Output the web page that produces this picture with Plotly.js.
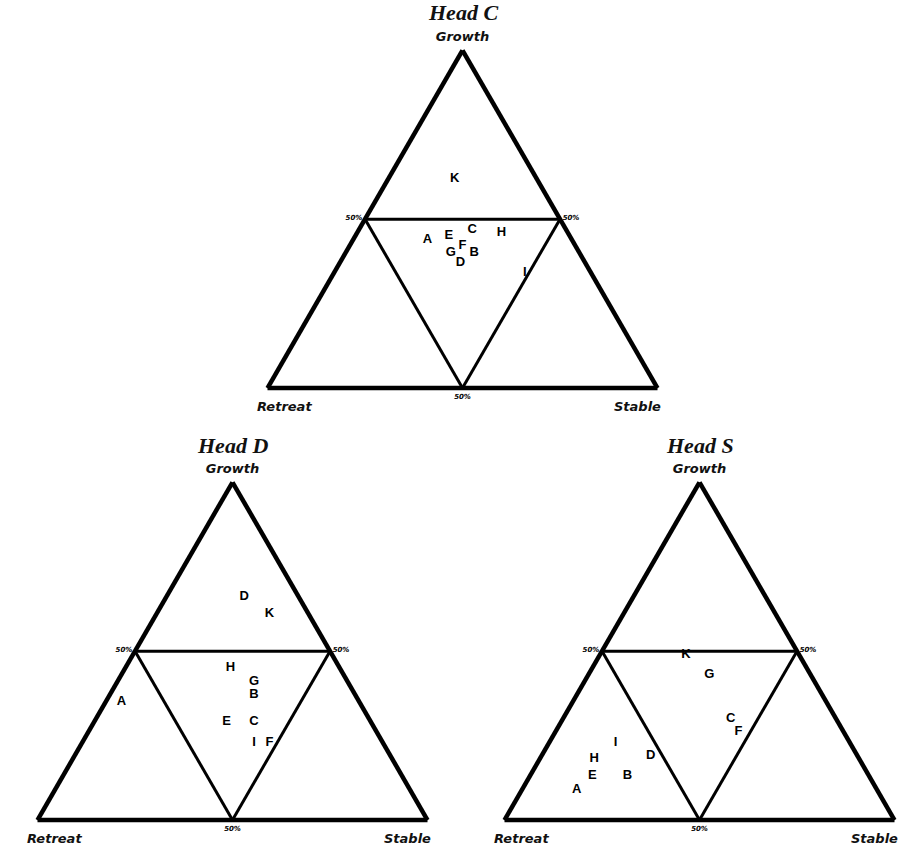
<!DOCTYPE html>
<html>
<head>
<meta charset="utf-8">
<script src="https://cdn.plot.ly/plotly-3.0.1.min.js"></script>
<style>
  html, body { margin: 0; padding: 0; background: #fff; }
  #chart { width: 914px; height: 846px; }
</style>
</head>
<body>
<div id="chart"></div>
<script>
// glacier heads: share of Growth / Retreat / Stable (percent) per site letter
const headCLabels  = ['A', 'B', 'C', 'D', 'E', 'F', 'G', 'H', 'I', 'K'];
const headCGrowth  = [44, 40, 47, 37, 45, 42, 40, 46, 34, 62];
const headCRetreat = [37, 27, 24, 32, 31, 29, 33, 17, 17, 21];
const headCStable  = [19, 33, 29, 31, 24, 29, 27, 37, 49, 17];

const headDLabels  = ['A', 'B', 'C', 'D', 'E', 'F', 'G', 'H', 'I', 'K'];
const headDGrowth  = [35, 37, 29, 66, 29, 23, 41, 45, 23, 61];
const headDRetreat = [61, 26, 30, 14, 37, 29, 24, 28, 33, 10];
const headDStable  = [4, 37, 41, 20, 34, 48, 35, 27, 44, 29];

const headSLabels  = ['A', 'B', 'C', 'D', 'E', 'F', 'G', 'H', 'I', 'K'];
const headSGrowth  = [9, 13, 30, 19, 13, 26, 43, 18, 23, 49];
const headSRetreat = [77, 62, 27, 53, 71, 27, 26, 68, 60, 29];
const headSStable  = [14, 25, 43, 28, 16, 47, 31, 14, 17, 22];

const headTitles = ['Head C', 'Head D', 'Head S'];
const cornerNames = ['Growth', 'Retreat', 'Stable'];
const midTicks = [50];
const midTickText = ['50%'];

const W = 914, H = 846;
const SIDE = 390;
const TRI_H = SIDE * Math.sqrt(3) / 2;

const cornerFont = { family: 'DejaVu Sans', size: 13, style: 'italic', weight: 'bold', color: '#111' };
const headFont = { family: 'Liberation Serif', size: 22, style: 'italic', weight: 'bold', color: '#111' };

function cornerAxis(name) {
  return {
    title: { text: name, font: cornerFont },
    min: 0,
    linewidth: 4.5,
    linecolor: '#000',
    showgrid: true,
    gridcolor: '#000',
    gridwidth: 3,
    tickmode: 'array',
    tickvals: midTicks,
    ticktext: midTickText,
    ticks: '',
    tickfont: { family: 'DejaVu Sans', size: 7, style: 'italic', weight: 'bold', color: '#000' }
  };
}

// cx = centre of the base in px, base = y of the base in px
function ternaryLayout(cx, base) {
  const x0 = cx - SIDE / 2, x1 = cx + SIDE / 2, y0 = base - TRI_H;
  return {
    domain: { x: [x0 / W, x1 / W], y: [1 - base / H, 1 - y0 / H] },
    sum: 100,
    bgcolor: '#fff',
    aaxis: cornerAxis(cornerNames[0]),
    baxis: cornerAxis(''),
    caxis: cornerAxis('')
  };
}

// Retreat / Stable names sit just inside the bottom corners, as in the original
function cornerNotes(cx, base) {
  const x0 = cx - SIDE / 2, x1 = cx + SIDE / 2;
  return [
    { text: cornerNames[1], x: (x0 - 13) / W, y: 1 - (base + 18) / H, xanchor: 'left' },
    { text: cornerNames[2], x: (x1 + 5) / W, y: 1 - (base + 18) / H, xanchor: 'right' }
  ].map(a => Object.assign(a, {
    xref: 'paper', yref: 'paper', yanchor: 'middle', showarrow: false, font: cornerFont
  }));
}

function letterTrace(labels, growth, retreat, stable, subplot) {
  return {
    type: 'scatterternary',
    mode: 'text',
    a: growth,
    b: retreat,
    c: stable,
    text: labels,
    textposition: 'middle center',
    textfont: { family: 'Liberation Sans', size: 13, weight: 'bold', color: '#000' },
    hoverinfo: 'text',
    subplot: subplot,
    showlegend: false
  };
}

const traces = [
  letterTrace(headCLabels, headCGrowth, headCRetreat, headCStable, 'ternary'),
  letterTrace(headDLabels, headDGrowth, headDRetreat, headDStable, 'ternary2'),
  letterTrace(headSLabels, headSGrowth, headSRetreat, headSStable, 'ternary3')
];

const heads = [
  { cx: 462.5, base: 388, titleY: 13 },
  { cx: 232.5, base: 820, titleY: 445 },
  { cx: 699.5, base: 820, titleY: 445 }
];

const headNotes = heads.map((h, i) => ({
  text: headTitles[i], x: h.cx / W, y: 1 - h.titleY / H,
  xref: 'paper', yref: 'paper', xanchor: 'center', yanchor: 'middle',
  showarrow: false, font: headFont
}));

const layout = {
  width: W,
  height: H,
  margin: { t: 0, l: 0, r: 0, b: 0 },
  paper_bgcolor: '#fff',
  showlegend: false,
  ternary: ternaryLayout(heads[0].cx, heads[0].base),
  ternary2: ternaryLayout(heads[1].cx, heads[1].base),
  ternary3: ternaryLayout(heads[2].cx, heads[2].base),
  annotations: headNotes.concat(
    cornerNotes(heads[0].cx, heads[0].base),
    cornerNotes(heads[1].cx, heads[1].base),
    cornerNotes(heads[2].cx, heads[2].base)
  )
};

const config = { displayModeBar: false, responsive: false };

Plotly.newPlot('chart', traces, layout, config);
</script>
</body>
</html>
